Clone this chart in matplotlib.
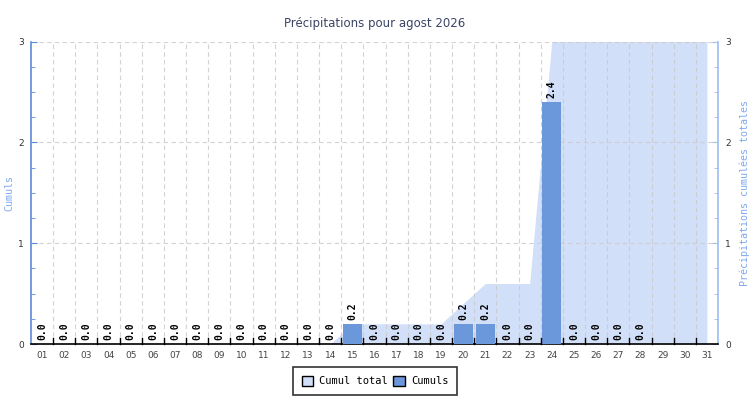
import matplotlib
matplotlib.use("Agg")
import matplotlib.pyplot as plt
import numpy as np
from matplotlib.patches import Patch
from matplotlib.ticker import MultipleLocator

# données
days = [f"{d:02d}" for d in range(1, 32)]
daily = [0.0] * 14 + [0.2] + [0.0] * 4 + [0.2, 0.2, 0.0, 0.0, 2.4, 0.0, 0.0, 0.0, 0.0] + [np.nan] * 3
cumul_days = list(range(14, 32))
cumul_total = [0.0, 0.2, 0.2, 0.2, 0.2, 0.2, 0.4, 0.6, 0.6, 0.6, 3.0, 3.0, 3.0, 3.0, 3.0, 3.0, 3.0, 3.0]

bar_color = "#6b97db"
area_color = "#d2dff8"
mono = "DejaVu Sans Mono"

fig = plt.figure(figsize=(7.5, 4), dpi=100)
ax = fig.add_axes([31 / 750, 56 / 400, 687 / 750, 302.5 / 400])
ax2 = ax.twinx()

x = np.arange(len(days))

# cumul total (axe de droite)
cx = np.array(cumul_days) - 1
ax2.fill_between(cx, 0, cumul_total, color=area_color, lw=0, zorder=1)
ax2.set_ylim(0, 3)
ax2.set_xlim(-0.5, len(days) - 0.5)

# cumuls journaliers (axe de gauche, au-dessus)
ax.set_zorder(ax2.get_zorder() + 1)
ax.patch.set_visible(False)
vals = np.array(daily)
ax.bar(x, np.nan_to_num(vals), width=0.86, color=bar_color, zorder=3)
for i, v in enumerate(vals):
    if np.isnan(v):
        continue
    ax.text(i, v + 0.04, f"{v:.1f}", rotation=90, ha="center", va="bottom",
            fontsize=7, family=mono, color="black", fontweight="bold", zorder=4)

ax.set_xlim(-0.5, len(days) - 0.5)
ax.set_ylim(0, 3)

# grille
for b in np.arange(0.5, len(days) - 0.5, 1):
    ax.axvline(b, color="#c8c8c8", ls=(0, (4, 3)), lw=0.8, alpha=0.8, zorder=0.5)
for yv in [1, 2, 3]:
    ax.axhline(yv, color="#c8c8c8", ls=(0, (4, 3)), lw=0.8, alpha=0.8, zorder=0.5)

# axe x
ax.set_xticks(x)
ax.set_xticklabels(days, fontsize=6.5, color="#444444")
ax.tick_params(axis="x", length=0, pad=5)
for b in np.arange(0.5, len(days) - 0.5, 1):
    ax.plot([b, b], [0, 0.06], color="black", lw=1, zorder=5, clip_on=False)

# axe gauche
ax.yaxis.set_major_locator(MultipleLocator(1))
ax.yaxis.set_minor_locator(MultipleLocator(0.25))
ax.tick_params(axis="y", which="major", direction="in", length=4, color="#5b8ad9",
               labelsize=6.5, labelcolor="#333333", pad=5)
ax.tick_params(axis="y", which="minor", direction="in", length=3, color="#5b8ad9")
ax.set_ylabel("Cumuls", fontsize=7.2, family=mono, color="#7fa8ef")
ax.yaxis.set_label_coords(-17 / 687, 0.5)

# axe droit
ax2.yaxis.set_major_locator(MultipleLocator(1))
ax2.yaxis.set_minor_locator(MultipleLocator(0.25))
ax2.tick_params(axis="y", which="major", direction="in", length=4, color="#9dbcf5",
                labelsize=6.5, labelcolor="#333333", pad=5)
ax2.tick_params(axis="y", which="minor", direction="in", length=3, color="#9dbcf5")
ax2.set_ylabel("Précipitations cumulées totales", fontsize=7.2, family=mono, color="#7fa8ef")
ax2.yaxis.set_label_coords(1 + 21 / 687, 0.5)

for a in (ax, ax2):
    for s in a.spines.values():
        s.set_visible(False)
ax.spines["left"].set_visible(True)
ax.spines["left"].set_color("#5b8ad9")
ax.spines["left"].set_linewidth(1.2)
ax2.spines["right"].set_visible(True)
ax2.spines["right"].set_color("#9dbcf5")
ax2.spines["right"].set_linewidth(1.2)
ax.spines["bottom"].set_visible(True)
ax.spines["bottom"].set_color("black")
ax.spines["bottom"].set_linewidth(1.2)

fig.text(0.5, 1 - 24 / 400, "Précipitations pour agost 2026", ha="center", va="center",
         fontsize=8.5, color="#3a4466")

handles = [Patch(facecolor=area_color, edgecolor="black", lw=1),
           Patch(facecolor=bar_color, edgecolor="black", lw=1)]
leg = fig.legend(handles, ["Cumul total", "Cumuls"], loc="center", bbox_to_anchor=(375 / 750, 1 - 381 / 400),
                 ncol=2, fancybox=False, frameon=True, prop={"family": mono, "size": 7.5},
                 handlelength=1.1, handleheight=1.1, handletextpad=0.6, columnspacing=0.5,
                 borderpad=0.8, borderaxespad=0)
leg.get_frame().set_edgecolor("black")
leg.get_frame().set_linewidth(1.2)

fig.savefig("out.png", dpi=100)
